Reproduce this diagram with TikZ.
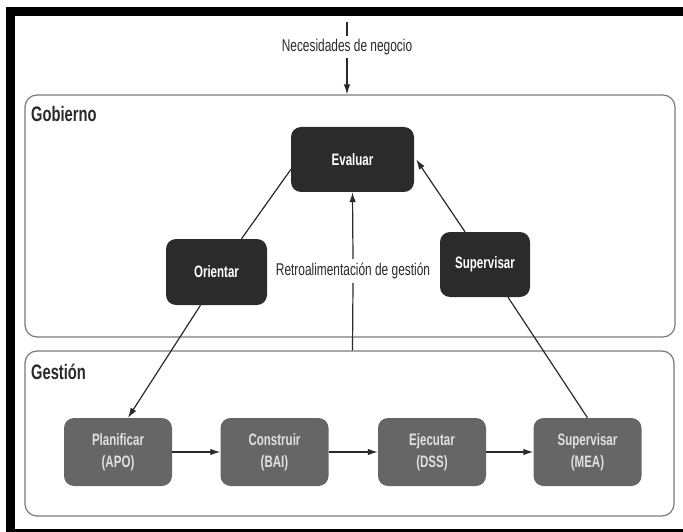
\documentclass[tikz,border=0pt]{standalone}
\usepackage{fontspec}
\setmainfont{Liberation Sans}[FakeStretch=0.7]
\usetikzlibrary{arrows.meta,positioning}
\definecolor{darkbox}{HTML}{2B2B2B}
\definecolor{graybox}{HTML}{666666}
\definecolor{frame}{HTML}{7A7A7A}
\definecolor{txt}{HTML}{2A2A2A}
\tikzset{
  govbox/.style={draw=none,fill=darkbox,rounded corners=10pt,text=white,font=\fontsize{16.5}{19}\selectfont\bfseries,align=center,inner sep=0pt},
  mgmtbox/.style={draw=none,fill=graybox,rounded corners=10pt,text=white!88!black,font=\fontsize{16.5}{22}\selectfont\bfseries,align=center,inner sep=0pt,minimum width=108pt,minimum height=68pt},
  area/.style={draw=frame,line width=1.2pt,rounded corners=12pt,inner sep=0pt},
  arealabel/.style={anchor=west,text=txt,font=\fontsize{21}{24}\selectfont\bfseries,inner sep=0pt},
  plain/.style={text=txt,font=\fontsize{17}{20}\selectfont,inner sep=3pt},
  conn/.style={draw=txt,line width=1.2pt},
  arr/.style={conn,-{Latex[length=10pt,width=6.5pt]}}
}
\begin{document}
\begin{tikzpicture}[x=1pt,y=-1pt]
\useasboundingbox (0,0) rectangle (683,532);
% black frame (cut at right and bottom)
\fill[black] (6,7) rectangle (683,16);
\fill[black] (6,7) rectangle (15,532);
\fill[black] (6,529) rectangle (683,532);
% areas
\node[area,minimum width=650pt,minimum height=242pt] (gob) at (350,216) {};
\node[area,minimum width=649pt,minimum height=165pt] (gest) at (349.5,433.5) {};
\node[arealabel] (gobl) at (31,114) {Gobierno};
\node[arealabel] (gestl) at (31,372) {Gestión};
% top input
\coordinate (ntop) at (347,22);
\node[plain] (need) at (347,47) {Necesidades de negocio};
\draw[conn] (ntop) -- (need.north);
\draw[arr] (need.south) -- (need.south |- gob.north);
% governance boxes
\node[govbox,minimum width=123pt,minimum height=65pt] (eval) at (352.5,159.5) {Evaluar};
\node[govbox,minimum width=101pt,minimum height=66pt] (orient) at (216.5,272) {Orientar};
\node[govbox,minimum width=90pt,minimum height=65pt] (sup) at (485,264.5) {Supervisar};
% management boxes
\node[mgmtbox] (plan) at (118,452) {Planificar\\(APO)};
\node[mgmtbox] (cons) at (274.5,452) {Construir\\(BAI)};
\node[mgmtbox] (ejec) at (432,452) {Ejecutar\\(DSS)};
\node[mgmtbox] (mea) at (587.5,452) {Supervisar\\(MEA)};
% feedback
\node[plain,fill=white,inner sep=4pt] (retro) at (353,271) {Retroalimentación de gestión};
\draw[conn] (eval.south |- gest.north) -- (retro.south);
\draw[arr] (retro.north) -- (eval.south);
% triangle connectors
\draw[conn] ([yshift=-10pt]eval.west) -- ([xshift=25pt]orient.north);
\draw[arr] ([xshift=-16pt]orient.south) -- ([xshift=10pt]plan.north);
\draw[conn] (mea.north) -- ([xshift=23pt]sup.south);
\draw[arr] ([xshift=-20pt]sup.north) -- ([xshift=2pt]eval.east);
% process chain
\draw[arr] (plan.east) -- (cons.west);
\draw[arr] (cons.east) -- (ejec.west);
\draw[arr] (ejec.east) -- (mea.west);
\end{tikzpicture}
\end{document}
